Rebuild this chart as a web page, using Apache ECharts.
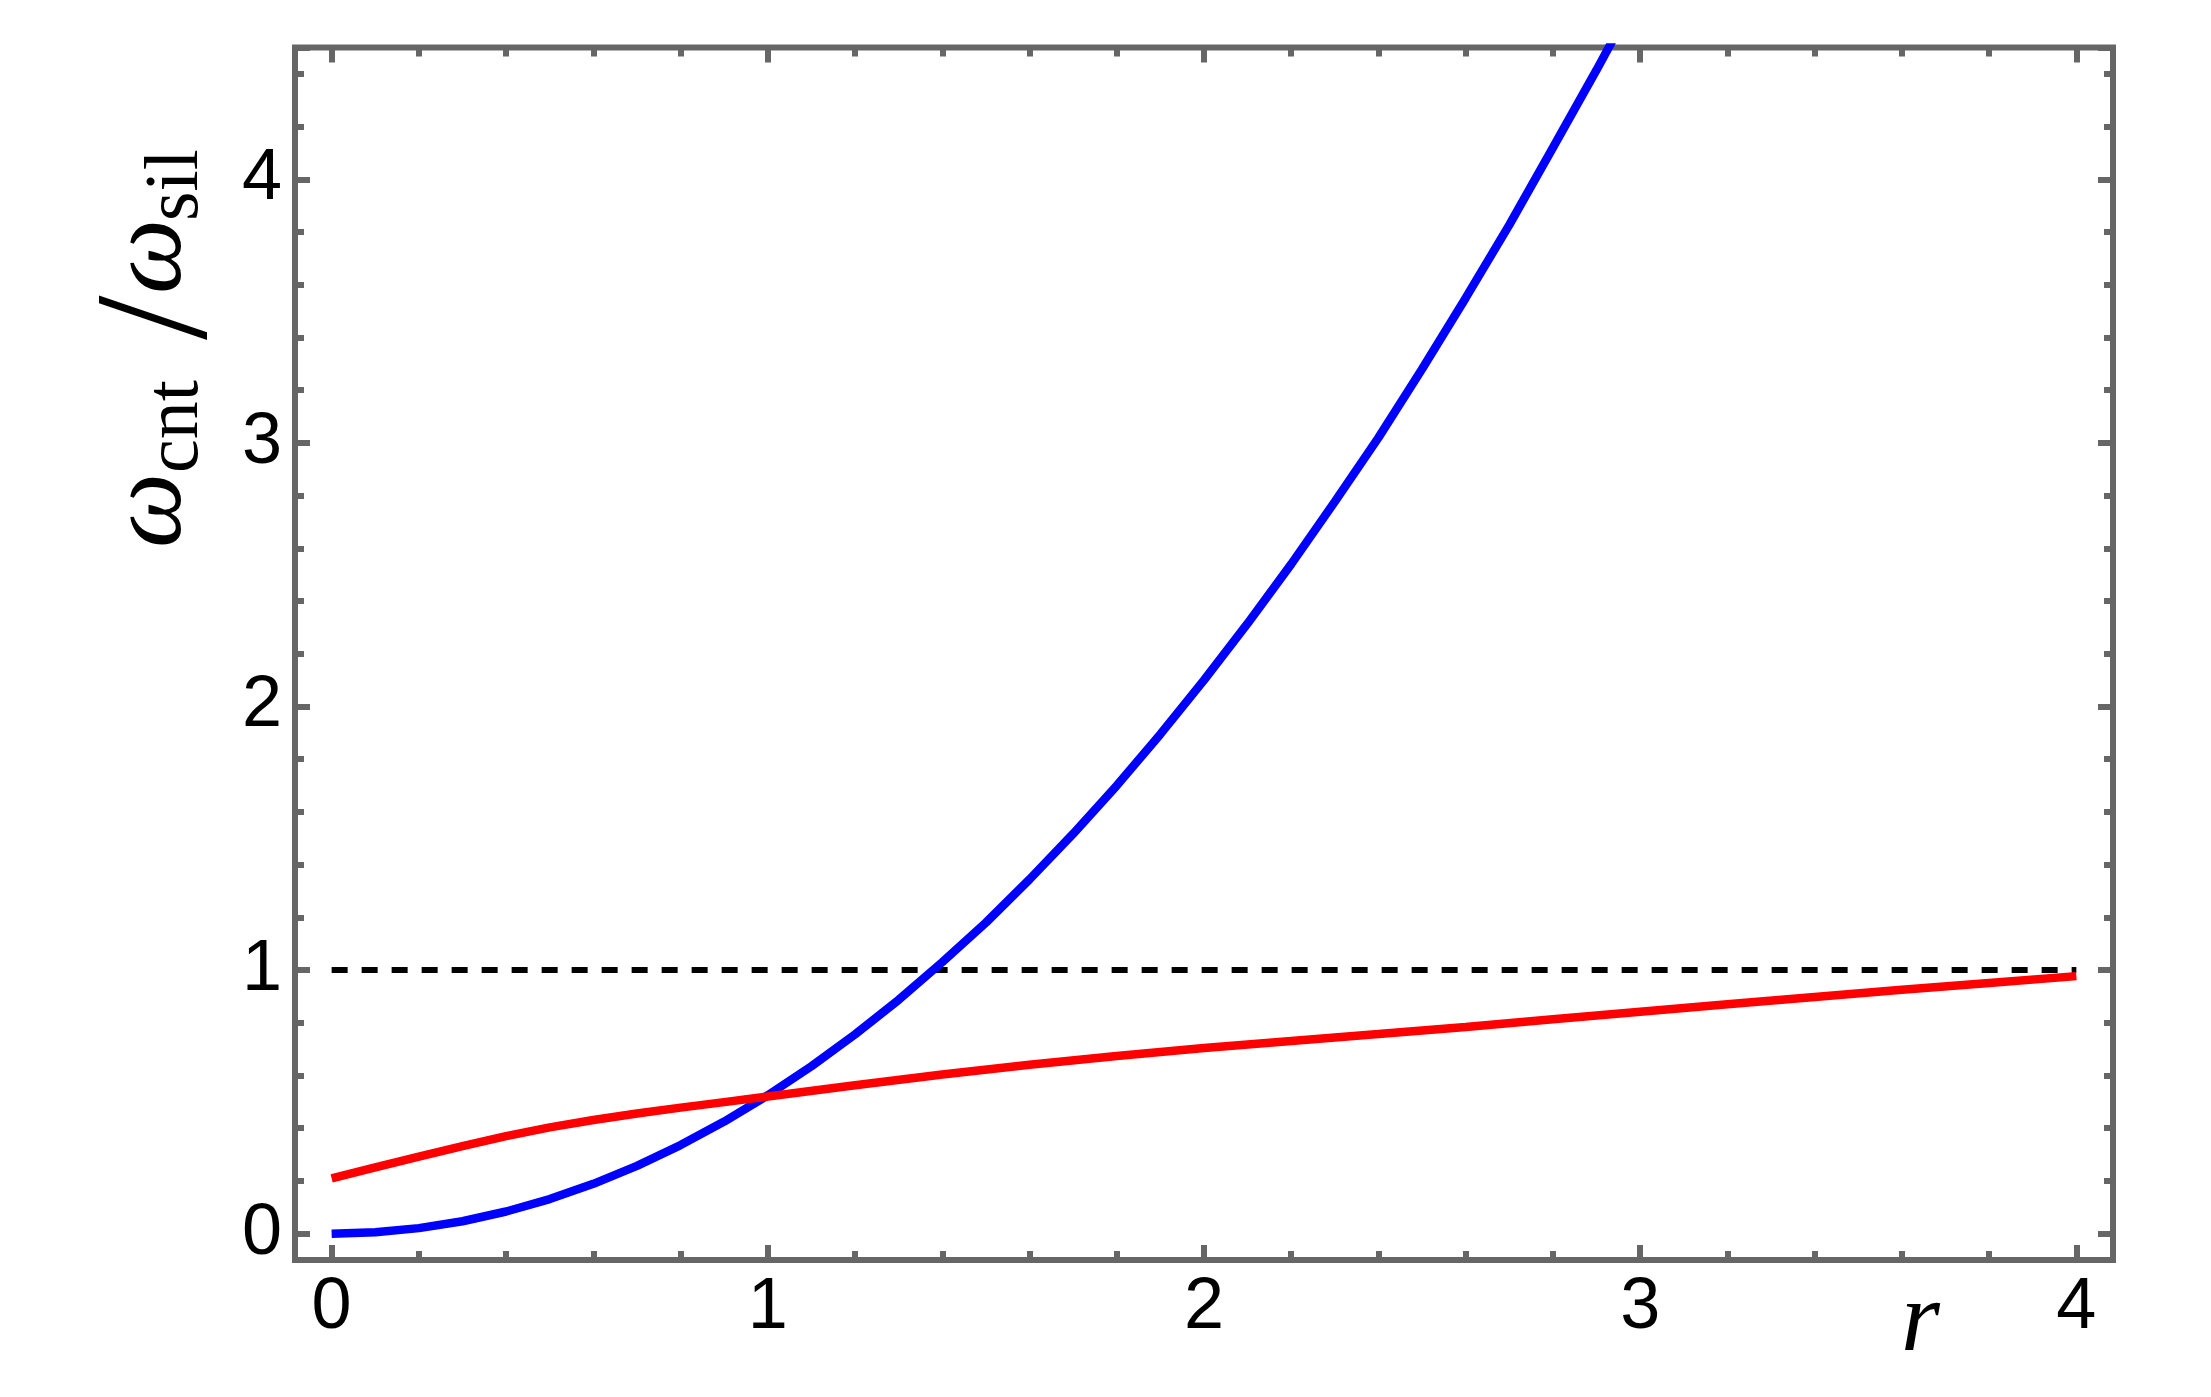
<!DOCTYPE html>
<html>
<head>
<meta charset="utf-8">
<style>
  html, body { margin: 0; padding: 0; background: #fff; }
  #chart { width: 2211px; height: 1397px; }
</style>
<script src="https://cdn.jsdelivr.net/npm/echarts@6/dist/echarts.min.js"></script>
</head>
<body>
<div id="chart"></div>
<script>
// values
const rRed = [0, 0.1, 0.2, 0.3, 0.4, 0.5, 0.6, 0.7, 0.8, 0.9, 1.0, 1.2, 1.4, 1.6, 1.8, 2.0, 2.2, 2.4, 2.6, 2.8, 3.0, 3.2, 3.4, 3.6, 3.8, 4.0]
const redValues = [0.21, 0.251, 0.292, 0.332, 0.370, 0.403, 0.431, 0.456, 0.478, 0.499, 0.52, 0.563, 0.604, 0.641, 0.674, 0.704, 0.731, 0.757, 0.784, 0.813, 0.842, 0.870, 0.898, 0.925, 0.951, 0.977]
const rBlue = [0, 0.1, 0.2, 0.3, 0.4, 0.5, 0.6, 0.7, 0.8, 0.9, 1.0, 1.1, 1.2, 1.3, 1.4, 1.5, 1.6, 1.7, 1.8, 1.9, 2.0, 2.1, 2.2, 2.3, 2.4, 2.5, 2.6, 2.7, 2.8, 2.9, 3.0]
const blueValues = [0, 0.005, 0.021, 0.047, 0.084, 0.131, 0.189, 0.257, 0.336, 0.425, 0.525, 0.635, 0.756, 0.887, 1.03, 1.18, 1.344, 1.517, 1.70, 1.895, 2.10, 2.315, 2.54, 2.777, 3.02, 3.28, 3.55, 3.827, 4.12, 4.415, 4.72]
const refX = [0, 4]
const refY = [1, 1]
const xRange = [-0.084, 4.084]
const yRange = [-0.1, 4.5]

const frameColor = '#666666'
const tickFont = '"Liberation Sans", Arial, sans-serif'
const mathFont = '"Liberation Serif", "Times New Roman", serif'

function pairs(xs, ys) {
  return xs.map((x, i) => [x, ys[i]])
}

function intLabel(v) {
  return Math.abs(v - Math.round(v)) < 1e-6 ? String(Math.round(v)) : ''
}

// zrender draws text with textBaseline 'middle'; work out where the alphabetic baseline lands
const measureCtx = document.createElement('canvas').getContext('2d')
function measure(text, font) {
  measureCtx.font = font
  measureCtx.textAlign = 'left'
  measureCtx.textBaseline = 'alphabetic'
  const a = measureCtx.measureText(text)
  measureCtx.textBaseline = 'middle'
  const m = measureCtx.measureText(text)
  return {
    shift: a.actualBoundingBoxAscent - m.actualBoundingBoxAscent, // baseline below middle
    ascent: a.actualBoundingBoxAscent,
    descent: a.actualBoundingBoxDescent,
    left: a.actualBoundingBoxLeft
  }
}

// a text piece whose left ink edge sits at x and baseline at y (local coords)
function piece(text, font, x, baseline) {
  const mt = measure(text, font)
  return {
    type: 'text',
    x: x + mt.left,
    y: baseline - mt.shift,
    style: { text: text, font: font, fill: '#000', align: 'left', verticalAlign: 'middle' }
  }
}

function makeAxis(range, position, showLabel, labelOpt) {
  return {
    type: 'value',
    position: position,
    min: range[0],
    max: range[1],
    axisLine: { show: false, onZero: false },
    splitLine: { show: false },
    axisTick: {
      show: true,
      inside: true,
      length: 15,
      lineStyle: { color: frameColor, width: 6 }
    },
    minorTick: {
      show: true,
      splitNumber: 5,
      length: 9,
      lineStyle: { color: frameColor, width: 6 }
    },
    axisLabel: Object.assign({
      show: showLabel,
      color: '#000',
      fontSize: 72,
      fontFamily: tickFont,
      formatter: intLabel
    }, labelOpt || {})
  }
}

// y axis title pieces (local coords: x along the text, y down from main baseline)
const wFont = 'italic 106px ' + mathFont
const subFont = '76px ' + mathFont
const slashFont = '160px ' + mathFont
const slashM = measure('/', slashFont)

const yTitle = [
  piece('ω', wFont, 0, 0),
  piece('cnt', subFont, 74, 17),
  piece('/', slashFont, 205, 27 - slashM.descent),
  piece('ω', wFont, 254, 0),
  piece('sil', subFont, 327, 17)
]

const rFont = 'italic 100px ' + mathFont
const rM = measure('r', rFont)

const chart = echarts.init(document.getElementById('chart'))

chart.setOption({
  animation: false,
  backgroundColor: '#fff',
  grid: {
    left: 295,
    right: 98,
    top: 47.5,
    bottom: 137,
    show: true,
    borderColor: frameColor,
    borderWidth: 6,
    backgroundColor: 'transparent'
  },
  xAxis: [
    makeAxis(xRange, 'bottom', true, { margin: 12 }),
    makeAxis(xRange, 'top', false)
  ],
  yAxis: [
    makeAxis(yRange, 'left', true, { margin: 13, padding: [0, 0, 18, 0] }),
    makeAxis(yRange, 'right', false)
  ],
  series: [
    {
      type: 'line',
      data: pairs(refX, refY),
      symbol: 'none',
      lineStyle: { color: '#000', width: 6, type: [16, 14] },
      silent: true
    },
    {
      type: 'line',
      data: pairs(rBlue, blueValues),
      symbol: 'none',
      clip: true,
      lineStyle: { color: '#0000ff', width: 8.5 },
      silent: true
    },
    {
      type: 'line',
      data: pairs(rRed, redValues),
      symbol: 'none',
      lineStyle: { color: '#ff0000', width: 8.5 },
      silent: true
    }
  ],
  graphic: [
    {
      type: 'text',
      x: 1905 + rM.left,
      y: 1350 - rM.shift,
      style: { text: 'r', font: rFont, fill: '#000', align: 'left', verticalAlign: 'middle' }
    },
    {
      // rotated y axis title: omega_cnt / omega_sil
      type: 'group',
      x: 180,
      y: 545,
      rotation: Math.PI / 2,
      children: yTitle
    }
  ]
})
</script>
</body>
</html>
